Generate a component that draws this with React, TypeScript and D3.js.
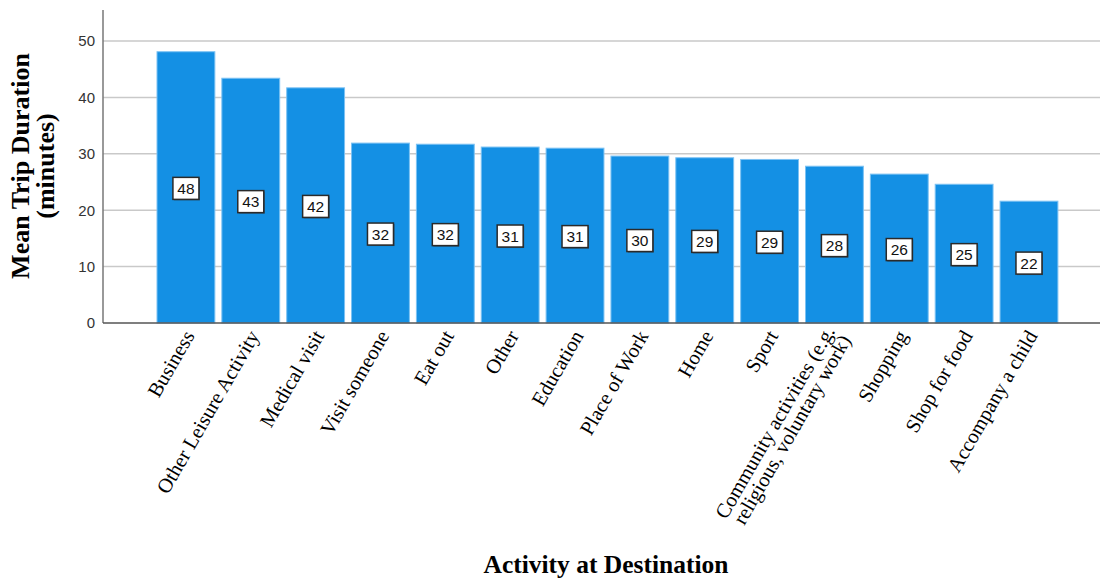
import React from "react";
import * as d3 from "d3";

const categories: string[] = [
  "Business",
  "Other Leisure Activity",
  "Medical visit",
  "Visit someone",
  "Eat out",
  "Other",
  "Education",
  "Place of Work",
  "Home",
  "Sport",
  "Community activities (e.g.|religious, voluntary work)",
  "Shopping",
  "Shop for food",
  "Accompany a child",
];

const meanMinutes: number[] = [
  48.1, 43.4, 41.7, 31.9, 31.7, 31.2, 31.0, 29.6, 29.3, 29.0, 27.8, 26.4, 24.6, 21.6,
];

const yTicks: number[] = [0, 10, 20, 30, 40, 50];

const W = 1101;
const H = 582;
const axisX = 103;
const plotRight = 1100;
const plotTop = 10;
const plotBottom = 323;

const serif = "'Liberation Serif', 'Times New Roman', serif";
const sans = "'Liberation Sans', Arial, sans-serif";

export default function App() {
  const y = d3.scaleLinear().domain([0, 55.5]).range([plotBottom, plotTop]);
  const x = d3
    .scaleBand<string>()
    .domain(categories)
    .range([153.5, 1061.4])
    .paddingInner(0.108)
    .paddingOuter(0.054);

  const angle = -60;

  return (
    <svg
      width={W}
      height={H}
      style={{ position: "absolute", left: 0, top: 0, background: "#fff" }}
    >
      {/* horizontal gridlines */}
      {yTicks.slice(1).map((t) => (
        <line
          key={"g" + t}
          x1={axisX}
          x2={plotRight}
          y1={y(t)}
          y2={y(t)}
          stroke="#c9c9c9"
          strokeWidth={1.5}
        />
      ))}

      {/* bars */}
      {categories.map((c, i) => (
        <rect
          key={"b" + c}
          x={x(c)!}
          y={y(meanMinutes[i])}
          width={x.bandwidth()}
          height={y(0) - y(meanMinutes[i])}
          fill="#1490e4"
          stroke="#7cc2f3"
          strokeWidth={1}
        />
      ))}

      {/* value labels in the middle of each bar */}
      {categories.map((c, i) => {
        const cx = x(c)! + x.bandwidth() / 2;
        const cy = (y(0) + y(meanMinutes[i])) / 2 + 1;
        return (
          <g key={"v" + c}>
            <rect
              x={cx - 12}
              y={cy - 10}
              width={26}
              height={22}
              fill="#333"
              opacity={0.6}
            />
            <rect
              x={cx - 13}
              y={cy - 11}
              width={26}
              height={22}
              fill="#fff"
              stroke="#2a2a2a"
              strokeWidth={1.5}
            />
            <text
              x={cx}
              y={cy}
              dy="0.36em"
              textAnchor="middle"
              fontFamily={sans}
              fontSize={15.5}
              fill="#111"
            >
              {Math.round(meanMinutes[i])}
            </text>
          </g>
        );
      })}

      {/* axes */}
      <line x1={axisX} x2={axisX} y1={plotTop} y2={plotBottom} stroke="#777" strokeWidth={1.5} />
      <line x1={axisX} x2={plotRight} y1={plotBottom} y2={plotBottom} stroke="#555" strokeWidth={1.5} />

      {/* y tick labels */}
      {yTicks.map((t) => (
        <text
          key={"t" + t}
          x={95}
          y={y(t)}
          dy="0.36em"
          textAnchor="end"
          fontFamily={sans}
          fontSize={15}
          fill="#333"
        >
          {t}
        </text>
      ))}

      {/* category labels */}
      {categories.map((c) => {
        const cx = x(c)! + x.bandwidth() / 2;
        const lines = c.split("|");
        return (
          <text
            key={"c" + c}
            transform={`translate(${cx + 3},${plotBottom + 9}) rotate(${angle})`}
            textAnchor="end"
            fontFamily={serif}
            fontSize={20.5}
            fill="#000"
          >
            {lines.map((ln, k) => (
              <tspan
                key={k}
                x={0}
                dy={k === 0 ? `${0.35 - (lines.length - 1) * 0.45}em` : "0.9em"}
              >
                {ln}
              </tspan>
            ))}
          </text>
        );
      })}

      {/* axis titles */}
      <text
        transform={`translate(29,166) rotate(-90)`}
        textAnchor="middle"
        fontFamily={serif}
        fontWeight="bold"
        fontSize={26}
        fill="#000"
      >
        Mean Trip Duration
      </text>
      <text
        transform={`translate(54,166) rotate(-90)`}
        textAnchor="middle"
        fontFamily={serif}
        fontWeight="bold"
        fontSize={26}
        fill="#000"
      >
        (minutes)
      </text>
      <text
        x={606}
        y={573}
        textAnchor="middle"
        fontFamily={serif}
        fontWeight="bold"
        fontSize={25.5}
        fill="#000"
      >
        Activity at Destination
      </text>
    </svg>
  );
}
